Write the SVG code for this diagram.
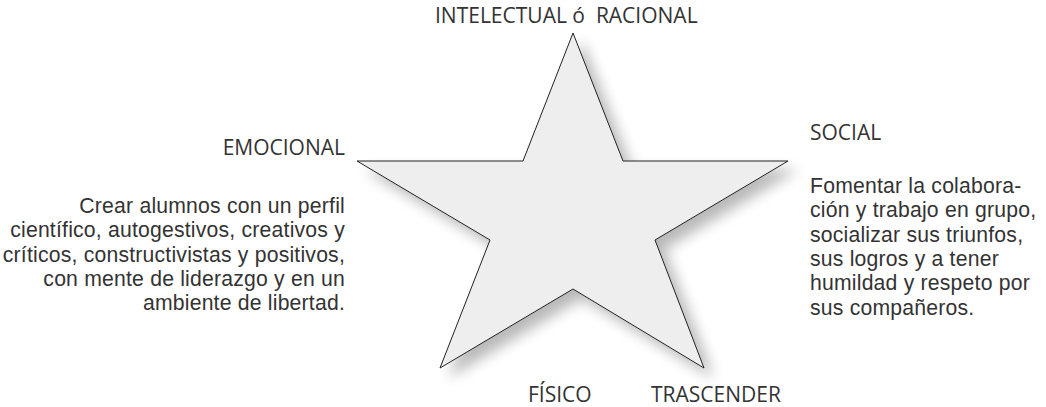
<svg xmlns="http://www.w3.org/2000/svg" width="1046" height="407" viewBox="0 0 1046 407">
<style>
text { font-family: "Open Sans", "Noto Sans", sans-serif; font-size: 21px; fill: #333333; }
.p { font-family: "Liberation Sans", Arial, sans-serif; font-size: 21.2px; letter-spacing: 0.2px; }
.r { text-anchor: end; }
.star { fill: #eeeeee; stroke: #222222; stroke-width: 1; stroke-linejoin: miter; }
</style>
<defs>
<filter id="shadow" x="-20%" y="-20%" width="140%" height="140%">
<feGaussianBlur in="SourceAlpha" stdDeviation="7"/>
<feOffset dx="9" dy="9" result="b"/>
<feComponentTransfer><feFuncA type="linear" slope="0.28"/></feComponentTransfer>
<feMerge><feMergeNode/><feMergeNode in="SourceGraphic"/></feMerge>
</filter>
</defs>
<rect width="1046" height="407" fill="#ffffff"/>
<g id="star">
<polygon class="star" filter="url(#shadow)" points="573,33 623,161 788,161 655,240 704,368 573,289 440,368 490,240 357,161 523,161"/>
</g>
<g id="intelectual">
<text x="435" y="23">INTELECTUAL ó&#160; RACIONAL</text>
</g>
<g id="emocional">
<text class="r" x="345" y="155">EMOCIONAL</text>
<text class="r p" x="345" y="213"><tspan x="345" y="213">Crear alumnos con un perfil</tspan><tspan x="345" y="237.3">científico, autogestivos, creativos y</tspan><tspan x="345" y="261.6">críticos, constructivistas y positivos,</tspan><tspan x="345" y="285.9">con mente de liderazgo y en un</tspan><tspan x="345" y="310.2">ambiente de libertad.</tspan></text>
</g>
<g id="social">
<text x="810" y="140">SOCIAL</text>
<text class="p" x="810" y="193"><tspan x="810" y="193">Fomentar la colabora-</tspan><tspan x="810" y="217.3">ción y trabajo en grupo,</tspan><tspan x="810" y="241.6">socializar sus triunfos,</tspan><tspan x="810" y="265.9">sus logros y a tener</tspan><tspan x="810" y="290.2">humildad y respeto por</tspan><tspan x="810" y="314.5">sus compañeros.</tspan></text>
</g>
<g id="fisico">
<text x="528" y="402">FÍSICO</text>
</g>
<g id="trascender">
<text x="651" y="402">TRASCENDER</text>
</g>
<g id="connectors"></g>
</svg>
